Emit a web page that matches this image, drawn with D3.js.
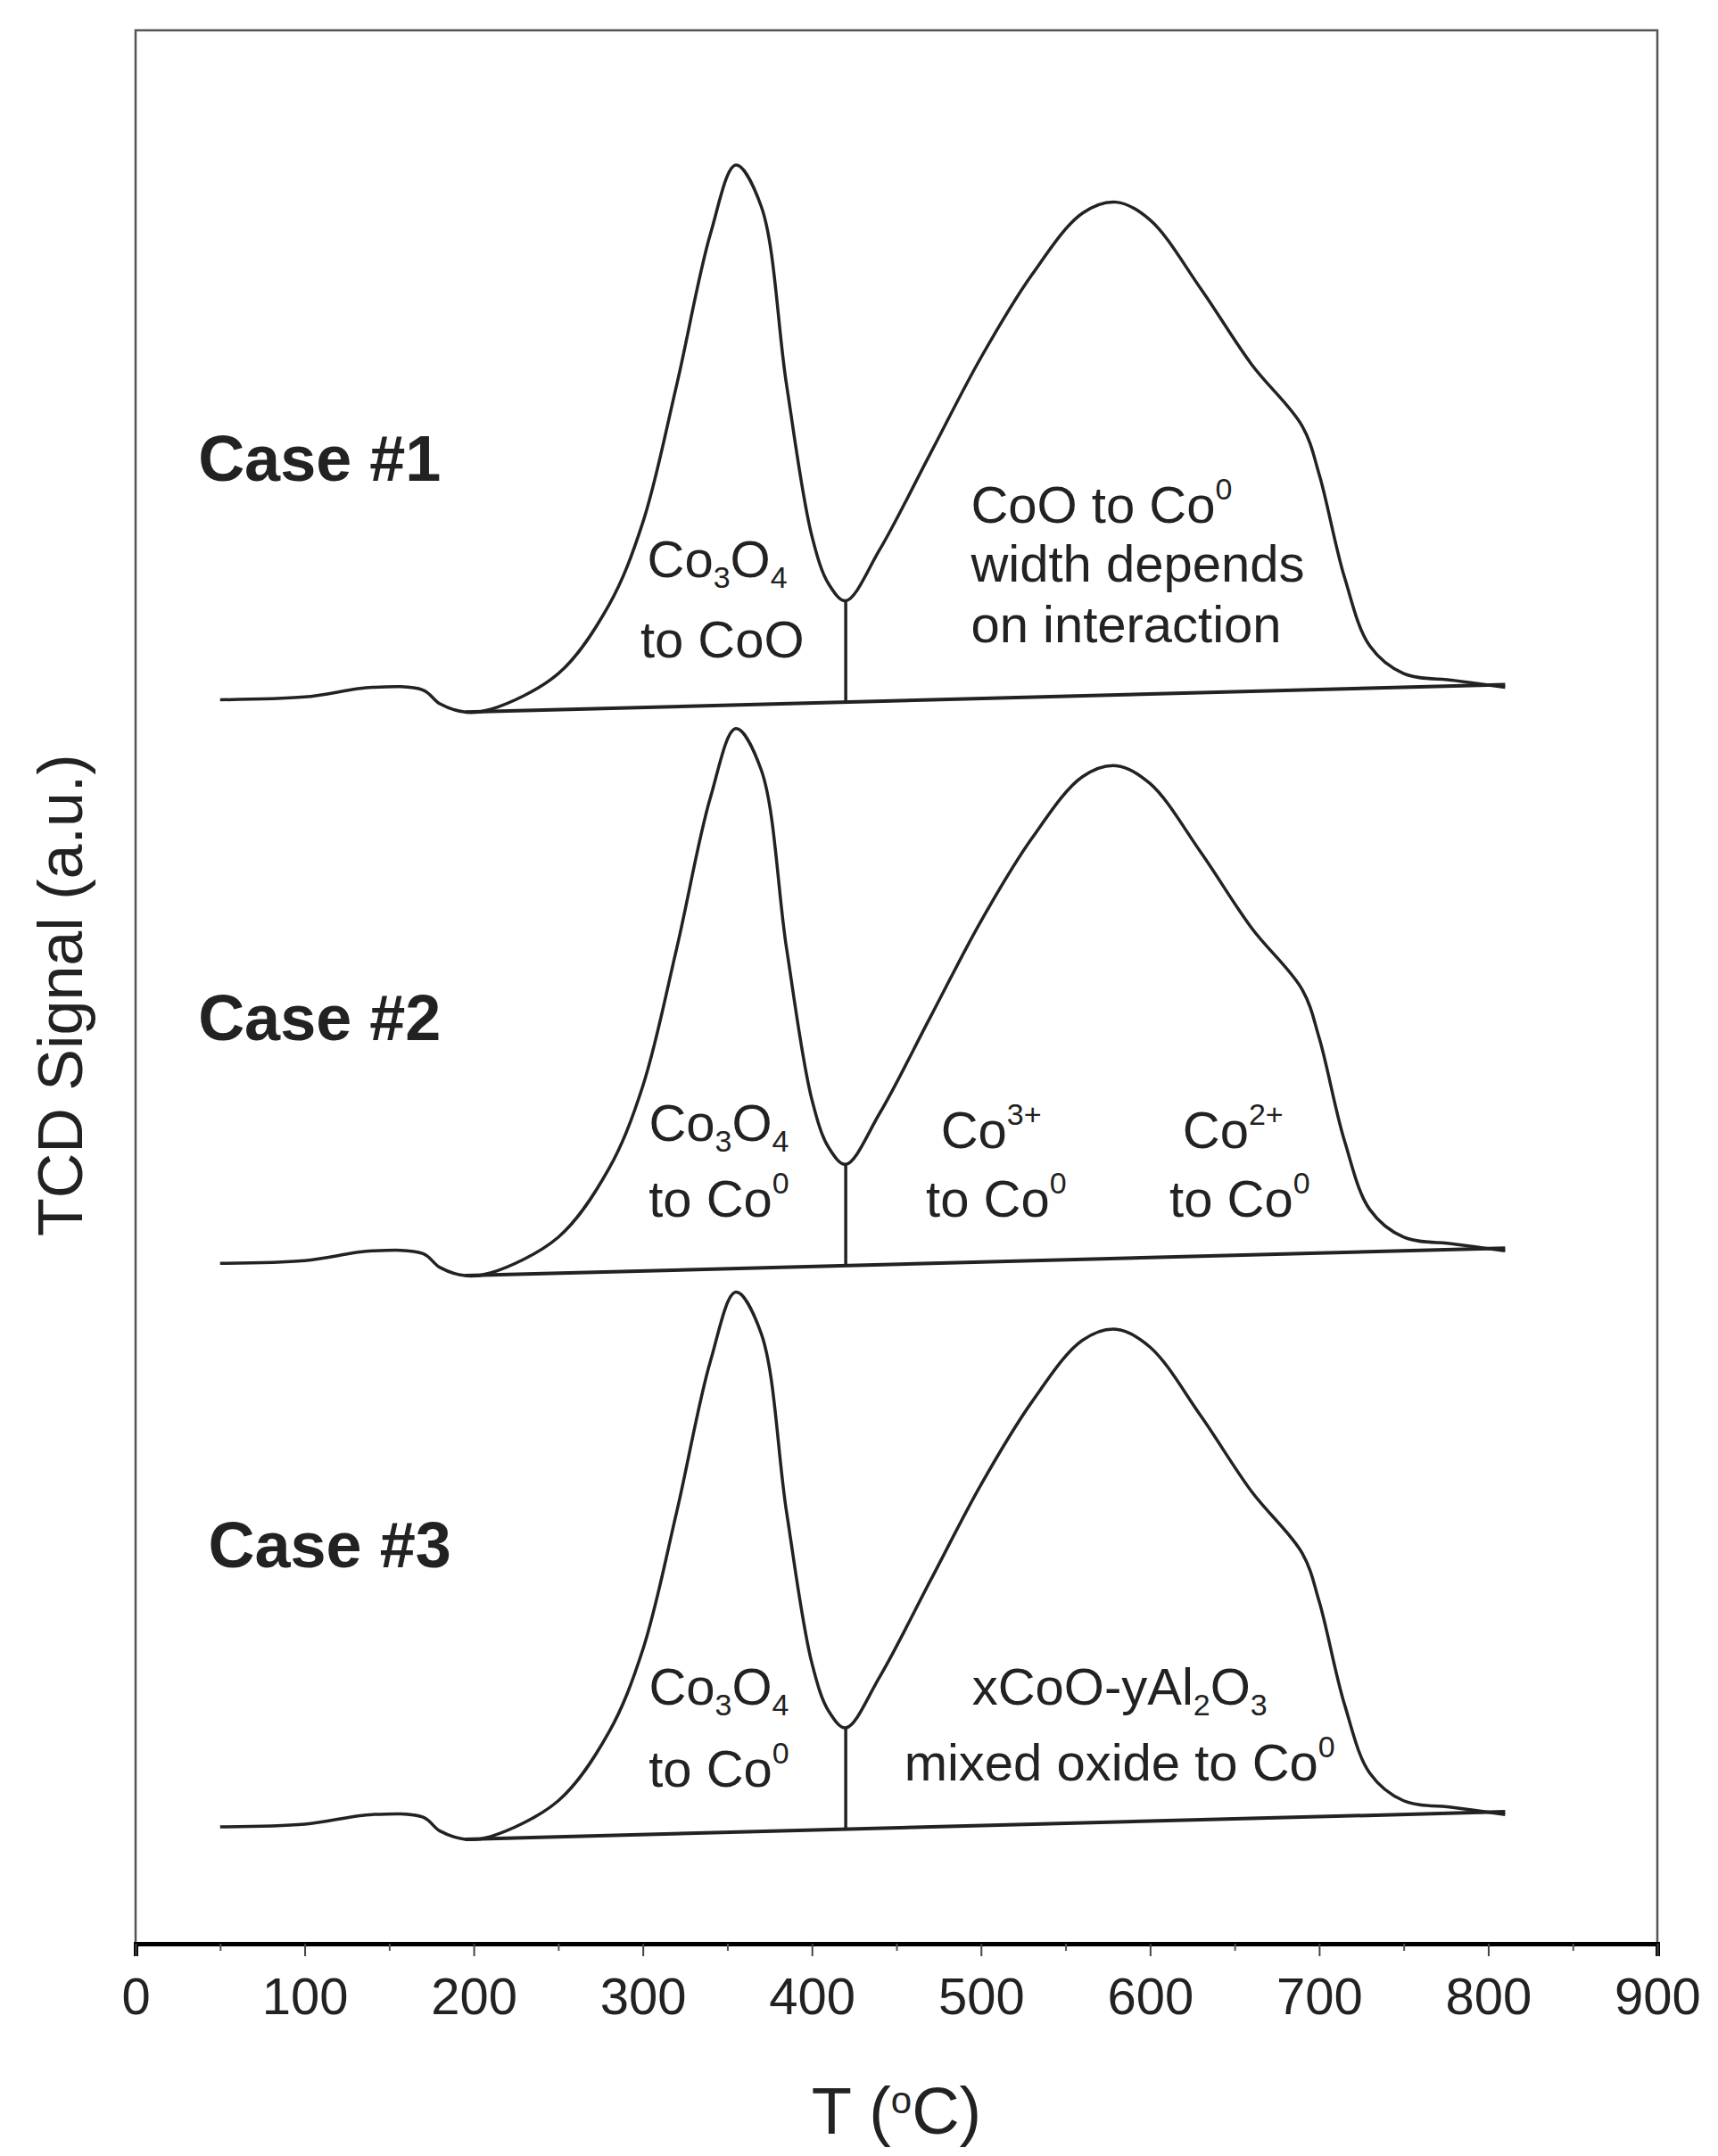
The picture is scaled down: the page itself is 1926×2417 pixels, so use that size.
<!DOCTYPE html>
<html><head><meta charset="utf-8">
<script src="https://cdn.jsdelivr.net/npm/d3@7"></script>
<style>body{margin:0;background:#fff}text{font-family:"Liberation Sans",Arial,sans-serif;fill:#222}</style>
</head><body><svg id="chart" width="1926" height="2417"></svg>
<script>
// temperature (deg C) and TCD signal (a.u.) of the reference profile
var temps = [50,100,140,170,180,195,210,250,280,300,320,340,355,370,385,400,410,420,440,470,500,530,560,580,600,630,660,690,700,715,730,750,780,810];
var signal = [90.5,90.7,91.4,91.2,90.2,89.6,89.8,92.4,97.4,103.4,113.4,124.4,129.4,126.4,113.4,102.4,98.9,97.7,101.4,108.4,115.4,121.4,125.9,126.7,125.4,120.4,114.9,110.4,106.9,99.4,94.4,92.4,91.9,91.4];
var caseNames = ["Case #1","Case #2","Case #3"];
var caseOffsets = [0,-41,-82];
var baseStart = [195,89.6], baseEnd = [810,91.6];
var splitT = 420;
var xTicks = [0,100,200,300,400,500,600,700,800,900];
// [caseIndex, T, signal, anchor, parts] ; parts: [text, "n"|"sub"|"sup"]
var notes = [
  [0,344,99.4,"middle",[["Co","n"],["3","sub"],["O","n"],["4","sub"]]],
  [0,347,93.6,"middle",[["to CoO","n"]]],
  [0,494,103.4,"start",[["CoO to Co","n"],["0","sup"]]],
  [0,494,99.1,"start",[["width depends","n"]]],
  [0,494,94.7,"start",[["on interaction","n"]]],
  [1,345,99.4,"middle",[["Co","n"],["3","sub"],["O","n"],["4","sub"]]],
  [1,345,93.9,"middle",[["to Co","n"],["0","sup"]]],
  [1,506,98.9,"middle",[["Co","n"],["3+","sup"]]],
  [1,509,93.9,"middle",[["to Co","n"],["0","sup"]]],
  [1,649,98.9,"middle",[["Co","n"],["2+","sup"]]],
  [1,653,93.9,"middle",[["to Co","n"],["0","sup"]]],
  [2,345,99.4,"middle",[["Co","n"],["3","sub"],["O","n"],["4","sub"]]],
  [2,345,93.4,"middle",[["to Co","n"],["0","sup"]]],
  [2,582,99.4,"middle",[["xCoO-yAl","n"],["2","sub"],["O","n"],["3","sub"]]],
  [2,582,93.9,"middle",[["mixed oxide to Co","n"],["0","sup"]]]
];
var caseLabelPos = [[37,108.1],[37,108.4],[43,111.1]];

var svg = d3.select("#chart");
var x = d3.scaleLinear().domain([0,900]).range([152,1858]);
var y = d3.scaleLinear().domain([0,139.2]).range([2179,34]);

svg.append("rect").attr("x",152).attr("y",34).attr("width",1706).attr("height",2145)
  .attr("fill","none").attr("stroke","#555").attr("stroke-width",2.5);

var ax = svg.append("g").attr("transform","translate(0,2179)")
  .call(d3.axisBottom(x).tickValues(xTicks).tickSize(14).tickPadding(24));
ax.select(".domain").attr("stroke","#000").attr("stroke-width",5);
ax.selectAll(".tick line").attr("stroke","#444").attr("stroke-width",2);
ax.selectAll(".tick text").attr("font-size",58).attr("fill","#222");
svg.append("g").attr("transform","translate(0,2179)")
  .call(d3.axisBottom(x).tickValues(d3.range(50,900,100)).tickSize(8).tickFormat(""))
  .call(function(g){g.select(".domain").remove();g.selectAll("line").attr("stroke","#555").attr("stroke-width",2);});

var t = svg.append("text").attr("x",x(450)).attr("y",2392).attr("text-anchor","middle").attr("font-size",74);
t.append("tspan").text("T (");
t.append("tspan").attr("baseline-shift","super").attr("font-size",42).text("o");
t.append("tspan").text("C)");
svg.append("text").attr("transform","translate(92,"+y(69)+") rotate(-90)")
  .attr("text-anchor","middle").attr("font-size",70).text("TCD Signal (a.u.)");

var line = d3.line().curve(d3.curveCatmullRom.alpha(0.5));
caseOffsets.forEach(function(off,ci){
  var g = svg.append("g");
  var pts = temps.map(function(T,i){return [x(T),y(signal[i]+off)];});
  g.append("path").attr("d",line(pts)).attr("fill","none").attr("stroke","#222").attr("stroke-width",3.5);
  g.append("line").attr("x1",x(baseStart[0])).attr("y1",y(baseStart[1]+off))
    .attr("x2",x(baseEnd[0])).attr("y2",y(baseEnd[1]+off)).attr("stroke","#222").attr("stroke-width",4);
  var bs = d3.scaleLinear().domain([baseStart[0],baseEnd[0]]).range([baseStart[1],baseEnd[1]]);
  var top = signal[temps.indexOf(splitT)];
  g.append("line").attr("x1",x(splitT)).attr("x2",x(splitT)).attr("y1",y(top+off)).attr("y2",y(bs(splitT)+off))
    .attr("stroke","#222").attr("stroke-width",3.5);
  g.append("text").attr("x",x(caseLabelPos[ci][0])).attr("y",y(caseLabelPos[ci][1]+off)+26)
    .attr("font-size",72).attr("font-weight","bold").attr("fill","#111").text(caseNames[ci]);
});

notes.forEach(function(n){
  var tx = svg.append("text").attr("x",x(n[1])).attr("y",y(n[2]+caseOffsets[n[0]]))
    .attr("text-anchor",n[3]).attr("font-size",58).attr("fill","#333");
  n[4].forEach(function(p){
    var s = tx.append("tspan").text(p[0]);
    if(p[1]==="sub") s.attr("font-size",34).attr("baseline-shift","-12");
    if(p[1]==="sup") s.attr("font-size",34).attr("baseline-shift","26");
  });
});
</script></body></html>
